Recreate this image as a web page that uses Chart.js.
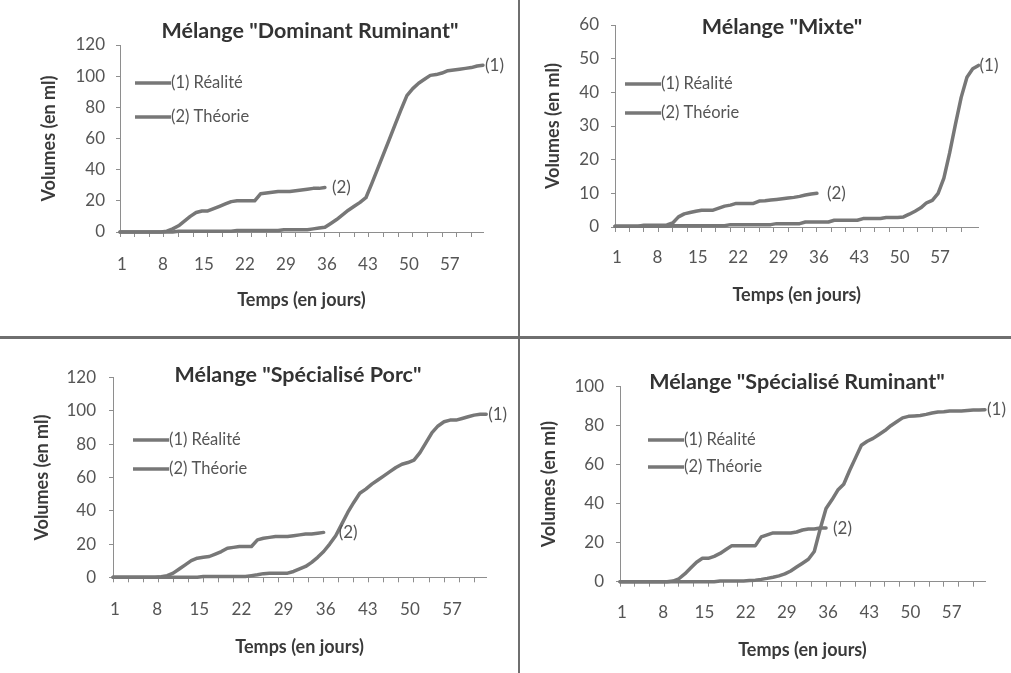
<!DOCTYPE html>
<html>
<head>
<meta charset="utf-8">
<script src="https://cdn.jsdelivr.net/npm/chart.js@4.4.1/dist/chart.umd.min.js"></script>
<style>
  html, body { margin: 0; padding: 0; background: #ffffff; }
  #wrap { position: relative; width: 1011px; height: 673px; overflow: hidden; background: #fff; }
  canvas { position: absolute; }
  .vsep { position: absolute; left: 518px; top: 0; width: 2px; height: 673px; background: #6f6f6f; }
  .hsep { position: absolute; left: 0; top: 336px; width: 1011px; height: 3px; background: #6f6f6f; }
</style>
</head>
<body>
<div id="wrap">
  <canvas id="c1" width="518" height="336" style="left:0;top:0"></canvas>
  <canvas id="c2" width="491" height="336" style="left:520px;top:0"></canvas>
  <canvas id="c3" width="518" height="334" style="left:0;top:339px"></canvas>
  <canvas id="c4" width="491" height="334" style="left:520px;top:339px"></canvas>
  <div class="vsep"></div>
  <div class="hsep"></div>
</div>
<script>
// ---------- DATA ----------
const days63 = [1,2,3,4,5,6,7,8,9,10,11,12,13,14,15,16,17,18,19,20,21,22,23,24,25,26,27,28,29,30,31,32,33,34,35,36,37,38,39,40,41,42,43,44,45,46,47,48,49,50,51,52,53,54,55,56,57,58,59,60,61,62,63];
const days64 = [1,2,3,4,5,6,7,8,9,10,11,12,13,14,15,16,17,18,19,20,21,22,23,24,25,26,27,28,29,30,31,32,33,34,35,36,37,38,39,40,41,42,43,44,45,46,47,48,49,50,51,52,53,54,55,56,57,58,59,60,61,62,63,64];
const xTickLabels = [1, 8, 15, 22, 29, 36, 43, 50, 57];
const seriesNames = ['(1) Réalité', '(2) Théorie'];
const endLabels = ['(1)', '(2)'];
const titles = ['Mélange "Dominant Ruminant"', 'Mélange "Mixte"', 'Mélange "Spécialisé Porc"', 'Mélange "Spécialisé Ruminant"'];
const xAxisTitle = 'Temps (en jours)';
const yAxisTitle = 'Volumes (en ml)';

const yTicks120 = [0, 20, 40, 60, 80, 100, 120];
const yTicks60 = [0, 10, 20, 30, 40, 50, 60];
const yTicks100 = [0, 20, 40, 60, 80, 100];

// Mélange "Dominant Ruminant"
const realiteDominant = [0,0,0,0,0,0,0,0,0,0, 0.5,0.5,0.5,0.5,0.5,0.5,0.5,0.5,0.5,0.5, 1,1,1,1,1,1,1,1, 1.5,1.5,1.5,1.5,1.5,
  2,2.5,3,5.5,8,11,14,16.5,19,22,31,40.5,50,59.5,69,78.5,87.5,92,95.5,98,100.5,101,102,103.5,104,104.5,105,105.5,106.5,107];
const theorieDominant = [0,0,0,0,0,0,0,0,0.5,2,4,7,10,12.5,13.5,13.5,15,16.5,18,19.5,20,20,20,20,24.5,25,25.5,26,26,26,26.5,27,27.5,28,28,28.5];

// Mélange "Mixte"
const realiteMixte = [0.2,0.2,0.2,0.2,0.2,0.2,0.2,0.2,0.2,0.2, 0.4,0.4,0.4,0.4,0.4,0.4,0.4,0.4,0.4,0.4, 0.7,0.7,0.7,0.7,0.7,0.7,0.7,0.7,
  1,1,1,1,1, 1.5,1.5,1.5,1.5,1.5, 2,2,2,2,2, 2.5,2.5,2.5,2.5, 2.8,2.8,2.8,
  3,3.8,4.7,5.7,7.2,7.9,10,14.5,22,30.5,38.5,44.5,47,48];
const theorieMixte = [0.2,0.2,0.2,0.2,0.2,0.5,0.5,0.5,0.5,0.6,1.2,3,3.9,4.3,4.7,5,5,5,5.6,6.2,6.5,7,7,7,7,7.7,7.8,8,8.2,8.4,8.6,8.8,9.1,9.5,9.8,10];

// Mélange "Spécialisé Porc"
const realitePorc = [0,0,0,0,0,0,0,0,0,0,0,0,0,0,0, 0.5,0.5,0.5,0.5,0.5,0.5,0.5,0.5,
  1,1.5,2.2,2.5,2.5,2.5,2.5,3.5,5,6.5,9,12,15.5,20,25,32,39,45,50.5,53,56,58.5,61,63.5,66,68,69,70.5,75,81,87,91,93.5,94.5,94.5,95.5,96.5,97.5,98,98];
const theoriePorc = [0,0,0,0,0,0,0,0,0.3,1,2.5,5,7.5,10,11.5,12,12.5,14,15.5,17.5,18,18.5,18.5,18.5,22.5,23.5,24,24.5,24.5,24.5,25,25.5,26,26,26.5,27];

// Mélange "Spécialisé Ruminant"
const realiteSpecRum = [0,0,0,0,0,0,0,0,0,0,0,0,0,0,0,0,0, 0.3,0.3,0.3,0.3,0.3,
  0.6,0.8,1.2,1.7,2.3,3,4,5.5,7.5,9.5,11.5,15.5,27,37.5,42,47,50,57,63.5,70,72,73.5,75.5,77.5,80,82,84,84.8,85,85.2,85.8,86.5,87,87.2,87.5,87.6,87.6,87.8,88,88,88.2];
const theorieSpecRum = [0,0,0,0,0,0,0,0,0,0.3,1.5,4,7,10,12,12,13,14.5,16.5,18.5,18.5,18.5,18.5,18.5,23,24,25,25,25,25,25.5,26.5,27,27,27.5,27.5];

// ---------- STYLE / LAYOUT ----------
const FONT = 'Lato, "Open Sans", "Noto Sans", sans-serif';
const LINE = '#777777';
const AXIS = '#8e8e8e';
const TICK = '#555555';
const TITLE = '#333333';
const AXTITLE = '#3a3a3a';
const TICK_SIZE = 17;
const LEGEND_SIZE = 16.5;
const AXTITLE_SIZE = 18;
const TITLE_SIZE = 21.5;
const LINE_W = 3.5;
const XT_H = 5;
const TICK_STEP = 2.5;   // spacing of the x tick marks, in categories

const layouts = [
  { id: 'c1', w: 518, h: 336, area: { l: 120, t: 45, r: 483, b: 232 }, title: { x: 310, y: 31 },
    yTitleX: 49, xTitleY: 300, xLabelCY: 265, yPad: 11, legend: { x: 135, rows: [83, 117] }, endGap: [2, 7] },
  { id: 'c2', w: 491, h: 336, area: { l: 95, t: 25, r: 458.5, b: 227 }, title: { x: 262, y: 27 },
    yTitleX: 33, xTitleY: 295, xLabelCY: 258, yPad: 12, legend: { x: 105, rows: [84, 113] }, endGap: [1, 10] },
  { id: 'c3', w: 518, h: 334, area: { l: 113, t: 38.7, r: 486.2, b: 238.3 }, title: { x: 298, y: 36 },
    yTitleX: 42, xTitleY: 308, xLabelCY: 271, yPad: 13, legend: { x: 133, rows: [101, 130] }, endGap: [2, 15] },
  { id: 'c4', w: 491, h: 334, area: { l: 100, t: 47.7, r: 465, b: 242.7 }, title: { x: 277, y: 43 },
    yTitleX: 29, xTitleY: 311, xLabelCY: 274, yPad: 12, legend: { x: 128, rows: [101, 128] }, endGap: [2, 7] }
];

const decorPlugin = {
  id: 'decor',
  afterDatasetsDraw(chart) {
    const L = chart.options.plugins.decor;
    const ctx = chart.ctx;
    ctx.save();
    // end labels
    ctx.font = TICK_SIZE + 'px ' + FONT;
    ctx.fillStyle = TICK;
    ctx.textAlign = 'left';
    ctx.textBaseline = 'middle';
    chart.data.datasets.forEach((ds, i) => {
      const pts = chart.getDatasetMeta(i).data;
      const last = pts[pts.length - 1];
      if (last) ctx.fillText(endLabels[i], last.x + L.endGap[i], last.y);
    });
    // legend
    chart.data.datasets.forEach((ds, i) => {
      const y = L.legend.rows[i];
      ctx.strokeStyle = ds.borderColor;
      ctx.lineWidth = LINE_W;
      ctx.lineCap = 'butt';
      ctx.beginPath();
      ctx.moveTo(L.legend.x, y);
      ctx.lineTo(L.legend.x + 36, y);
      ctx.stroke();
      ctx.fillStyle = TICK;
      ctx.font = LEGEND_SIZE + 'px ' + FONT;
      ctx.fillText(ds.label, L.legend.x + 36, y);
    });
    // title
    ctx.font = 'bold ' + TITLE_SIZE + 'px ' + FONT;
    ctx.fillStyle = TITLE;
    ctx.textAlign = 'center';
    ctx.fillText(L.title.text, L.title.x, L.title.y);
    ctx.restore();
  }
};

function makeChart(L, titleText, days, realite, theorie, yTicks) {
  const ctx = document.getElementById(L.id).getContext('2d');
  const tickMarks = [];
  for (let v = 0; v <= days.length - 2; v += TICK_STEP) tickMarks.push(v);
  const lh = TICK_SIZE * 1.2;
  const tlh = AXTITLE_SIZE * 1.2;
  const dsBase = { borderColor: LINE, borderWidth: LINE_W, pointRadius: 0, pointHoverRadius: 0, tension: 0,
                   borderJoinStyle: 'round', borderCapStyle: 'round', fill: false, clip: false };
  return new Chart(ctx, {
    type: 'line',
    data: {
      labels: days,
      datasets: [
        Object.assign({ label: seriesNames[0], data: realite }, dsBase),
        Object.assign({ label: seriesNames[1], data: theorie }, dsBase)
      ]
    },
    options: {
      responsive: false,
      animation: false,
      events: [],
      layout: { padding: { left: 0, top: L.area.t, right: L.w - L.area.r, bottom: 0 } },
      plugins: {
        legend: { display: false },
        title: { display: false },
        tooltip: { enabled: false },
        decor: { legend: L.legend, endGap: L.endGap, title: { text: titleText, x: L.title.x, y: L.title.y } }
      },
      scales: {
        x: {
          type: 'category', position: 'bottom', weight: 1,
          grid: { display: false, drawTicks: false },
          border: { display: false },
          ticks: {
            autoSkip: false, maxRotation: 0, minRotation: 0, labelOffset: 2,
            padding: L.xLabelCY - L.area.b - XT_H - lh / 2,
            color: TICK, font: { family: FONT, size: TICK_SIZE },
            callback: function (v) {
              const d = this.getLabelForValue(v);
              return xTickLabels.includes(Number(d)) ? String(d) : '';
            }
          },
          title: { display: true, text: xAxisTitle, color: AXTITLE,
                   font: { family: FONT, size: AXTITLE_SIZE, weight: 'bold' },
                   padding: { top: 0, bottom: L.h - L.xTitleY - tlh / 2 } },
          afterFit: s => { s.height = L.h - L.area.b - XT_H; }
        },
        xt: {
          type: 'linear', position: 'bottom', weight: 0,
          min: 0, max: days.length - 1,
          grid: { drawOnChartArea: false, drawTicks: true, tickLength: XT_H, color: AXIS, lineWidth: 1 },
          border: { display: true, color: AXIS, width: 1 },
          ticks: { display: false },
          afterBuildTicks: s => { s.ticks = tickMarks.map(v => ({ value: v })); },
          afterFit: s => { s.height = XT_H; }
        },
        y: {
          min: 0, max: yTicks[yTicks.length - 1],
          grid: { drawOnChartArea: false, drawTicks: true, tickLength: 4, color: AXIS },
          border: { display: true, color: AXIS, width: 1 },
          ticks: { color: TICK, font: { family: FONT, size: TICK_SIZE }, padding: L.yPad },
          afterBuildTicks: s => { s.ticks = yTicks.map(v => ({ value: v })); },
          title: { display: true, text: yAxisTitle, color: AXTITLE,
                   font: { family: FONT, size: AXTITLE_SIZE, weight: 'bold' },
                   padding: { top: L.yTitleX - tlh / 2, bottom: 0 } },
          afterFit: s => { s.width = L.area.l; }
        }
      }
    },
    plugins: [decorPlugin]
  });
}

makeChart(layouts[0], titles[0], days63, realiteDominant, theorieDominant, yTicks120);
makeChart(layouts[1], titles[1], days64, realiteMixte, theorieMixte, yTicks60);
makeChart(layouts[2], titles[2], days63, realitePorc, theoriePorc, yTicks120);
makeChart(layouts[3], titles[3], days63, realiteSpecRum, theorieSpecRum, yTicks100);
</script>
</body>
</html>
